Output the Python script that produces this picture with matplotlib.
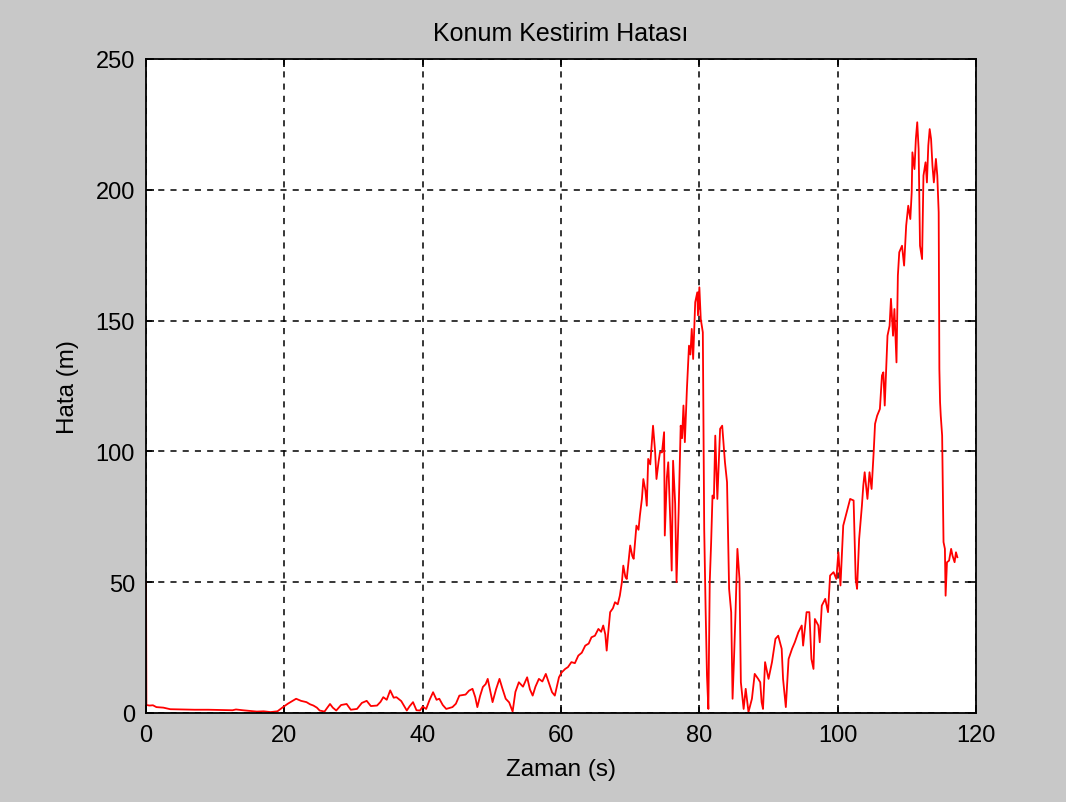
import matplotlib.pyplot as plt

plt.rcParams["font.family"] = ["Liberation Sans", "DejaVu Sans"]

# values (time in s, error in m)
zaman = [
    0, 0.05, 0.5, 1.0, 1.5, 2.5, 3.5, 5, 7, 9, 11, 12.5, 13, 14, 16, 17, 18, 19, 19.8,
    20.5, 21.7, 22.4, 23.2, 23.7, 24.2, 24.7, 25.1, 25.8, 26.6, 27.0, 27.5, 28.2, 29.0,
    29.6, 30.5, 31.2, 31.9, 32.5, 33.4, 33.9, 34.3, 34.8, 35.3, 35.8, 36.2, 36.9, 37.7,
    38.1, 38.6, 39.1, 39.6, 40.0, 40.5, 41.0, 41.5, 42.0, 42.4, 42.9, 43.4, 44.3, 44.8,
    45.3, 46.2, 46.7, 47.2, 47.6, 47.9, 48.3, 48.7, 49.1, 49.4, 49.8, 50.1, 50.6, 51.1,
    51.5, 52.0, 52.5, 53.0, 53.4, 53.9, 54.5, 55.1, 55.5, 55.9, 56.3, 56.8, 57.3, 57.8,
    58.3, 58.7, 59.1, 59.7, 60.1,
    60.6, 61.0, 61.5, 62.0, 62.5, 63.0, 63.5, 64.0, 64.4, 64.9, 65.4, 65.8, 66.1, 66.4,
    66.6, 66.8, 67.1, 67.5, 67.8, 68.2, 68.5, 68.8, 69.0, 69.3, 69.5, 69.8, 70.0, 70.3,
    70.5, 70.9, 71.2, 71.4, 71.7, 71.9, 72.2, 72.4, 72.6, 72.9, 73.1, 73.3, 73.6, 73.8,
    74.1, 74.3, 74.6, 74.9, 75.0, 75.3, 75.5, 75.8, 76.0, 76.2, 76.5, 76.7, 77.0, 77.3,
    77.5, 77.7, 77.9, 78.2, 78.5, 78.7, 78.9, 79.1, 79.4, 79.7, 79.8, 80.0, 80.2, 80.5,
    80.7, 80.9, 81.1, 81.3, 81.5, 81.7, 81.9, 82.1, 82.3, 82.6, 83.0, 83.3, 83.5, 83.7,
    84.0, 84.3, 84.6, 84.8, 85.0, 85.2, 85.5, 85.8, 86.0, 86.4, 86.7, 87.1, 87.6, 88.0,
    88.5, 88.8, 89.0, 89.2, 89.5, 90.0, 90.5, 91.0, 91.4, 91.9, 92.1, 92.5, 92.9, 93.4,
    93.8, 94.3, 94.8, 95.0, 95.5, 95.9, 96.2, 96.5, 96.7, 97.2, 97.4, 97.7, 98.2, 98.6,
    98.9, 99.4, 99.8, 100.1, 100.4, 100.8, 101.3, 101.8, 102.3, 102.6, 102.8, 103.1,
    103.5, 103.7, 103.9, 104.3, 104.6, 104.9, 105.2, 105.4, 105.7, 106.1, 106.4, 106.6,
    106.8, 107.2, 107.5, 107.7, 108.0, 108.2, 108.5, 108.7, 108.9, 109.3, 109.6, 109.9,
    110.2, 110.5, 110.7, 110.8, 111.1, 111.3, 111.5, 111.7, 111.9, 112.2, 112.4, 112.7,
    112.9, 113.1, 113.3, 113.5, 113.7, 113.9, 114.2, 114.4, 114.6, 114.7, 114.8, 114.9,
    115.1, 115.3, 115.5, 115.6, 115.8, 116.1, 116.4, 116.6, 116.9, 117.1, 117.3,
]
hata = [
    50, 3.0, 2.8, 2.9, 2.2, 2.0, 1.4, 1.3, 1.2, 1.2, 1.1, 1.0, 1.3, 1.0, 0.5, 0.6, 0.3, 0.6, 2.2,
    3.5, 5.4, 4.6, 4.1, 3.3, 2.8, 2.0, 0.9, 0.5, 3.4, 2.0, 0.9, 3.0, 3.4,
    1.2, 1.5, 3.8, 4.6, 2.6, 2.8, 4.2, 6.0, 5.0, 8.6, 5.8, 6.0, 4.5, 0.9,
    2.5, 4.1, 1.0, 0.9, 2.4, 1.5, 5.0, 7.9, 5.0, 5.4, 3.0, 1.5, 2.2, 3.5,
    6.6, 7.0, 8.5, 9.2, 6.0, 2.2, 6.5, 9.9, 11.0, 13.0, 8.0, 4.1, 9.0, 13.0,
    9.5, 5.4, 4.0, 0.5, 8.0, 11.7, 10.0, 13.6, 9.0, 6.6, 10.0, 13.0, 12.0, 14.9,
    11.0, 7.9, 6.6, 13.6, 15.5,
    16.8, 17.5, 19.4, 19.0, 21.9, 23.0, 25.7, 26.5, 28.9, 29.5, 32.1, 31.0, 33.4, 30.0,
    23.8, 30.0, 38.5, 40.0, 42.3, 41.5, 44.8, 50.0, 56.3, 52.0, 51.2, 59.0, 64.0, 60.0,
    58.9, 71.6, 70.0, 75.4, 82.0, 89.4, 85.0, 79.2, 97.1, 95.0, 102.2, 109.8, 100.0, 89.4,
    96.0, 99.6, 99.6, 107.3, 67.8, 90.0, 95.8, 73.0, 54.4, 96.4, 80.0, 50.0, 76.7, 109.8,
    105.0, 117.5, 103.5, 123.9, 140.4, 137.0, 146.8, 135.3, 157.0, 160.8, 152.0, 162.7, 150.6, 145.5,
    70.3, 40.0, 14.3, 1.5, 50.0, 65.0, 83.1, 82.0, 106.0, 81.8, 108.6, 109.8, 103.0, 95.8,
    88.2, 47.4, 38.5, 5.4, 20.0, 35.9, 62.7, 51.2, 11.7, 1.5, 9.2, 0.3, 5.4, 14.9,
    13.0, 11.7, 4.1, 1.5, 19.4, 13.0, 19.4, 28.3, 29.5, 24.5, 13.0, 2.2, 20.6, 24.5,
    27.0, 30.8, 33.4, 25.7, 38.5, 38.5, 20.6, 16.8, 35.9, 33.4, 27.0, 41.0, 43.6, 38.5,
    52.5, 53.8, 51.2, 61.4, 48.7, 71.6, 76.7, 81.8, 81.2, 51.2, 47.4, 66.5,
    79.2, 86.9, 92.0, 81.8, 92.0, 85.6, 99.6, 110.5, 113.6, 116.2, 129.0, 130.2,
    117.5, 144.2, 148.0, 158.3, 144.2, 154.4, 134.0, 167.2, 176.1, 178.6, 171.0, 186.3,
    193.9, 188.8, 199.0, 214.3, 207.9, 219.4, 225.8, 215.6, 178.6, 173.5, 205.4, 210.5,
    202.8, 216.9, 223.2, 219.4, 209.2, 202.8, 211.8, 205.4, 191.4, 131.5, 118.8, 113.6,
    106.0, 65.3, 62.7, 44.8, 57.6, 58.2, 62.7, 60.1, 57.6, 61.4, 59.5,
]

x_ticks = [0, 20, 40, 60, 80, 100, 120]
y_ticks = [0, 50, 100, 150, 200, 250]

fig = plt.figure(figsize=(10.66, 8.03), dpi=100, facecolor="#c8c8c8")
ax = fig.add_axes([0.137, 0.111, 0.7786, 0.8143])
ax.set_facecolor("white")

ax.plot(zaman, hata, color="red", linewidth=1.3)

ax.set_xlim(0, 120)
ax.set_ylim(0, 250)
ax.set_xticks(x_ticks)
ax.set_yticks(y_ticks)
ax.grid(True, color="black", linestyle=(0, (4, 4)), linewidth=1.1)
ax.tick_params(direction="in", length=6, width=1.2, top=True, right=True,
               labelsize=17, pad=8)
for s in ax.spines.values():
    s.set_linewidth(1.3)

ax.set_title("Konum Kestirim Hatası", fontsize=18, pad=14)
ax.set_xlabel("Zaman (s)", fontsize=17.5, labelpad=9)
ax.set_ylabel("Hata (m)", fontsize=17.5, labelpad=12)

fig.savefig("out.png", dpi=100, facecolor=fig.get_facecolor())
